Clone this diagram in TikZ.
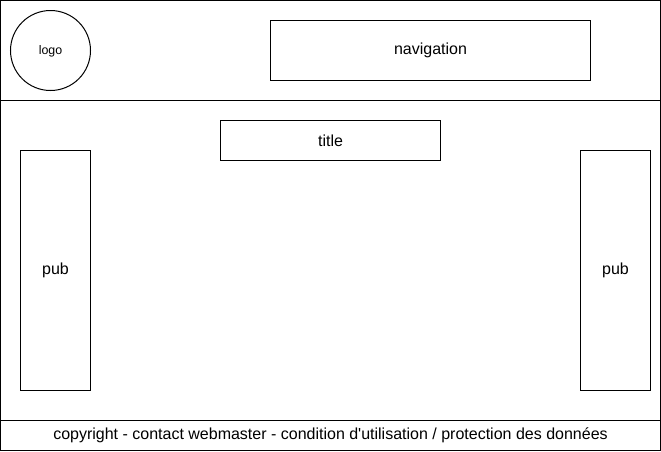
\documentclass[tikz,border=0pt]{standalone}
\usepackage{fontspec}
\setmainfont{Liberation Sans}
\begin{document}
\begin{tikzpicture}[x=0.75pt,y=-0.75pt,
  box/.style={draw=black, line width=0.75pt},
  lbl/.style={font=\fontsize{12}{14}\selectfont, inner sep=0pt},
]
\useasboundingbox (0,0) rectangle (661,451);
\draw[box] (0.5,0.5) rectangle (660.5,450.5);
\coordinate (hl) at (0.5,100.5);
\coordinate (hr) at (660.5,100.5);
\coordinate (fl) at (0.5,420.5);
\coordinate (fr) at (660.5,420.5);
\draw[box] (hl) -- (hr);
\draw[box] (fl) -- (fr);
\draw[box] (50.5,50.5) circle (40);
\node[lbl, font=\fontsize{9.3}{11}\selectfont] (logo) at (50.5,51.5) {logo};
\draw[box] (270.5,20.5) rectangle (590.5,80.5);
\node[lbl] (nav) at (430.5,50.5) {navigation};
\draw[box] (220.5,120.5) rectangle (440.5,160.5);
\node[lbl] (title) at (330.5,140.5) {title};
\draw[box] (20.5,150.5) rectangle (90.5,390.5);
\node[lbl] (publ) at (55.5,270.5) {pub};
\draw[box] (580.5,150.5) rectangle (650.5,390.5);
\node[lbl] (pubr) at (615.5,270.5) {pub};
\node[lbl] (foot) at (330.5,435.5) {copyright - contact webmaster - condition d\textquotesingle utilisation / protection des données};
\end{tikzpicture}
\end{document}
